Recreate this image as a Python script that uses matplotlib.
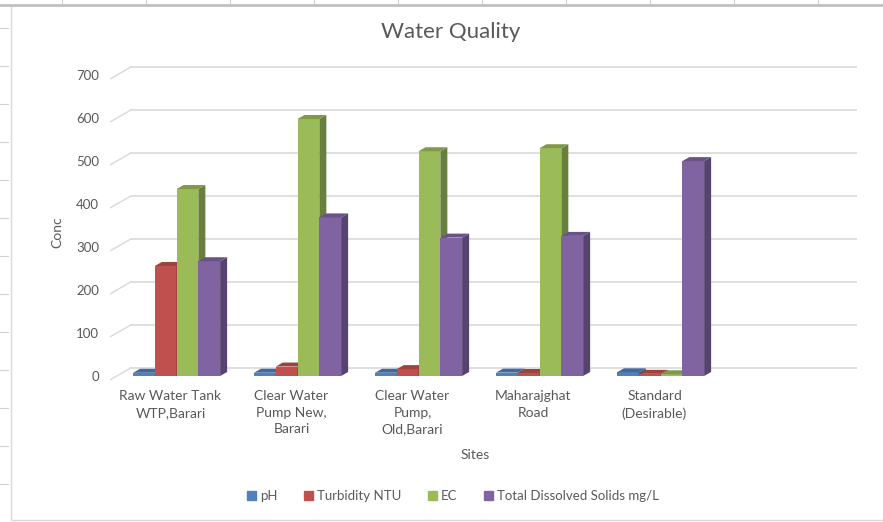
import matplotlib.pyplot as plt
import matplotlib.colors as mcolors
from matplotlib.patches import Polygon, Rectangle
import numpy as np

plt.rcParams['font.family'] = ['Lato', 'DejaVu Sans']

# data
sites = ["Raw Water Tank\nWTP,Barari", "Clear Water\nPump New,\nBarari",
         "Clear Water\nPump,\nOld,Barari", "Maharajghat\nRoad",
         "Standard\n(Desirable)"]
series_names = ["pH", "Turbidity NTU", "EC", "Total Dissolved Solids mg/L"]
ph = [7.4, 7.6, 7.5, 7.8, 8.5]
turbidity = [256, 22, 16, 7, 5]
ec = [435, 598, 523, 530, 4]
tds = [267, 369, 322, 326, 500]
colors = ["#4F81BD", "#C0504D", "#9BBB59", "#8064A2"]
yticks = [0, 100, 200, 300, 400, 500, 600, 700]

W, H = 883, 522
fig = plt.figure(figsize=(W / 100, H / 100), dpi=100)

# chart area frame (Excel sheet around it)
fig.patches.append(Rectangle((11 / W, 1 - 520 / H), 1.2, 515 / H, transform=fig.transFigure,
                             fill=False, edgecolor="#D9D9D9", lw=1.0))
fig.add_artist(plt.Line2D([0, 1], [1 - 5 / H] * 2, color="#BFBFBF", lw=2.0))
for xc in [62, 146, 230, 314, 398, 482, 566, 650, 734, 818]:
    fig.add_artist(plt.Line2D([xc / W] * 2, [1 - 4 / H, 1], color="#D0D0D0", lw=0.8))
for yr in range(28, 522, 38):
    fig.add_artist(plt.Line2D([0, 8 / W], [1 - yr / H] * 2, color="#D0D0D0", lw=0.8))

# plot area in pixels: x 110..857, y 64..382
ax = fig.add_axes([110 / W, 1 - 382 / H, 747 / W, 318 / H])
wdx, wdy = 0.1736, 19      # back wall offset
ddx, ddy = 0.058, 9.3       # bar depth
ax.set_xlim(-0.5, 5.5 + wdx)
ax.set_ylim(-14, 726)
for s in ax.spines.values():
    s.set_visible(False)

grid_c = "#D9D9D9"
for v in yticks:
    ax.plot([-0.5 + wdx, 5.5 + wdx], [v + wdy, v + wdy], color=grid_c, lw=1.2, zorder=0)
    ax.plot([-0.5, -0.5 + wdx], [v - 9, v + wdy], color=grid_c, lw=1.0, zorder=0)


def shade(c, f):
    r, g, b = mcolors.to_rgb(c)
    return (r * f, g * f, b * f)


width = 0.18
allvals = [ph, turbidity, ec, tds]
z = 2
for i in range(len(sites)):
    for j, vals in enumerate(allvals):
        h = vals[i]
        x0 = i - 0.31 + j * width
        x1 = x0 + width
        ax.bar(x0, h, width, align="edge", color=colors[j], lw=0, zorder=z)
        ax.add_patch(Polygon([(x1, 0), (x1, h), (x1 + ddx, h + ddy), (x1 + ddx, ddy)],
                             closed=True, color=shade(colors[j], 0.68), lw=0, zorder=z))
        ax.add_patch(Polygon([(x0, h), (x1, h), (x1 + ddx, h + ddy), (x0 + ddx, h + ddy)],
                             closed=True, color=shade(colors[j], 0.82), lw=0, zorder=z))
        z += 1

ax.set_yticks(yticks)
ax.set_yticklabels([str(v) for v in yticks])
ax.set_xticks(range(len(sites)))
ax.set_xticklabels(sites, linespacing=1.45)
ax.tick_params(axis="y", length=0, pad=8, labelsize=9.5, labelcolor="#595959")
ax.tick_params(axis="x", length=0, pad=6, labelsize=10, labelcolor="#595959")
for t in ax.get_xticklabels():
    t.set_verticalalignment("top")

fig.text(451 / W, 1 - 32 / H, "Water Quality", ha="center", va="center",
         fontsize=16, color="#595959")
fig.text(57 / W, 1 - 232 / H, "Conc", ha="center", va="center", rotation=90,
         fontsize=10, color="#595959")
fig.text(475 / W, 1 - 455 / H, "Sites", ha="center", va="center",
         fontsize=10, color="#595959")

handles = [Rectangle((0, 0), 1, 1, color=c) for c in colors]
fig.legend(handles, series_names, loc="center", bbox_to_anchor=(453 / W, 1 - 496 / H),
           ncol=4, frameon=False, fontsize=9.5, handlelength=0.7, handleheight=0.7,
           handletextpad=0.3, columnspacing=2.0, labelcolor="#595959")

fig.savefig("out.png", dpi=100)
